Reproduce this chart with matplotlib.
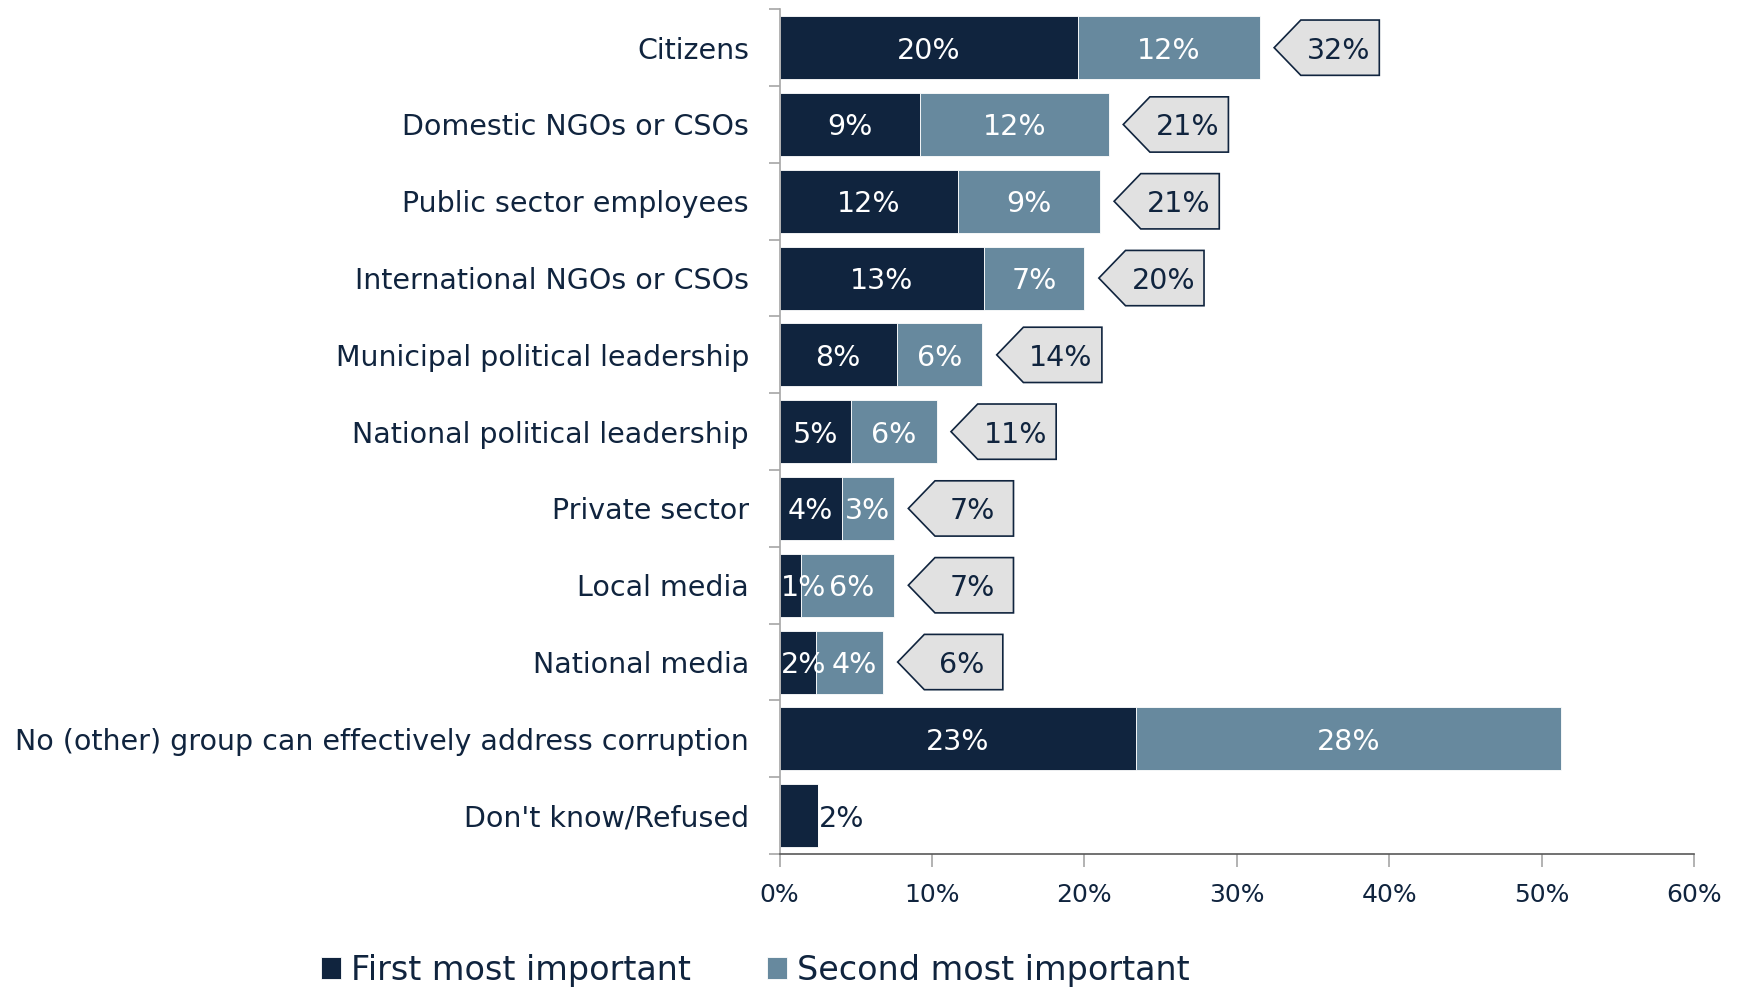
import matplotlib
matplotlib.use('Agg')
from matplotlib import pyplot as plt
from matplotlib.patches import Polygon
import numpy as np

# data
groups = ['Citizens', 'Domestic NGOs or CSOs', 'Public sector employees',
          'International NGOs or CSOs', 'Municipal political leadership',
          'National political leadership', 'Private sector', 'Local media',
          'National media', 'No (other) group can effectively address corruption',
          "Don't know/Refused"]
first = [19.6, 9.2, 11.7, 13.4, 7.7, 4.7, 4.1, 1.4, 2.4, 23.4, 2.5]
second = [11.9, 12.4, 9.3, 6.6, 5.6, 5.6, 3.4, 6.1, 4.4, 27.9, 0]
first_lbl = ['20%', '9%', '12%', '13%', '8%', '5%', '4%', '1%', '2%', '23%', '2%']
second_lbl = ['12%', '12%', '9%', '7%', '6%', '6%', '3%', '6%', '4%', '28%', '']
total_lbl = ['32%', '21%', '21%', '20%', '14%', '11%', '7%', '7%', '6%', '', '']

navy = '#10243e'
steel = '#67899e'
grey = '#a6a6a6'

plt.rcParams['font.family'] = ['DejaVu Sans']

fig = plt.figure(figsize=(17.4, 9.88), dpi=100)
ax = fig.add_axes([0.448, 0.1356, 0.5256, 0.855])

y = np.arange(len(groups))
h = 0.82
b1 = ax.barh(y, first, height=h, color=navy, edgecolor='white', lw=0.6,
             label='First most important')
b2 = ax.barh(y, second, left=first, height=h, color=steel, edgecolor='white',
             lw=0.6, label='Second most important')

fs = 20.5
for i in range(len(groups)):
    if second[i] == 0:
        # no second answer: label sits outside the bar
        ax.text(first[i] + 0.05, i, first_lbl[i], ha='left', va='center_baseline',
                color=navy, fontsize=fs)
        continue
    cx = first[i] / 2
    if cx < 1.5:
        ax.text(0.1, i, first_lbl[i], ha='left', va='center_baseline',
                color='white', fontsize=fs)
    else:
        ax.text(cx, i, first_lbl[i], ha='center', va='center_baseline',
                color='white', fontsize=fs)
    ax.text(first[i] + second[i] / 2 + (0.3 if cx < 1.5 else 0), i,
            second_lbl[i], ha='center', va='center_baseline', color='white',
            fontsize=fs)

    # callout with the total
    if total_lbl[i]:
        tot = first[i] + second[i]
        x0 = tot + 0.95
        w, d, hh = 6.9, 1.75, 0.36
        pts = [(x0, i), (x0 + d, i - hh), (x0 + w, i - hh),
               (x0 + w, i + hh), (x0 + d, i + hh)]
        ax.add_patch(Polygon(pts, closed=True, facecolor='#e1e1e1',
                             edgecolor=navy, lw=1.2))
        ax.text(x0 + d + (w - d) / 2 - 0.1, i, total_lbl[i], ha='center',
                va='center_baseline', color=navy, fontsize=fs)

ax.set_xlim(0, 60)
ax.set_ylim(len(groups) - 0.5, -0.5)
ax.set_xticks(np.arange(0, 61, 10))
ax.set_xticklabels([f'{v}%' for v in range(0, 61, 10)])
ax.set_yticks(np.arange(-0.5, len(groups), 1))
ax.set_yticklabels([])
ax.set_yticks(y, minor=True)
ax.set_yticklabels(groups, minor=True)

ax.tick_params(axis='y', which='major', length=8, color=grey, width=1.2)
ax.tick_params(axis='y', which='minor', length=0, pad=22, labelsize=fs,
               labelcolor=navy)
ax.tick_params(axis='x', length=9, color=grey, width=1.2, pad=12,
               labelsize=18, labelcolor=navy)

for s in ['top', 'right']:
    ax.spines[s].set_visible(False)
ax.spines['left'].set_color(grey)
ax.spines['left'].set_linewidth(1.2)
ax.spines['bottom'].set_color('#595959')
ax.spines['bottom'].set_linewidth(1.2)

leg = fig.legend(handles=[b1, b2], loc='center', bbox_to_anchor=(0.434, 0.018),
                 ncol=2, frameon=False, fontsize=24, handlelength=0.6,
                 handleheight=0.6, handletextpad=0.3, columnspacing=2.3)
for t in leg.get_texts():
    t.set_color(navy)

fig.savefig('out.png', dpi=100)
